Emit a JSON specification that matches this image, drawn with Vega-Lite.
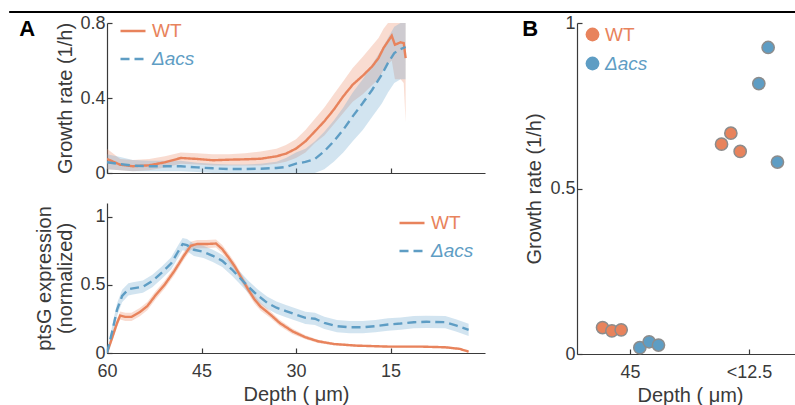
{
  "$schema": "https://vega.github.io/schema/vega-lite/v6.json",
  "padding": {"left": 8, "top": 11, "right": 0, "bottom": 0},
  "spacing": 1,
  "resolve": {"scale": {"fill": "independent", "stroke": "independent", "strokeDash": "independent"}, "legend": {"fill": "independent", "stroke": "independent", "strokeDash": "independent"}},
  "datasets": {
    "growth": [
      {"depth": 60, "strain": "WT", "mean": 0.075, "lo": 0.02, "hi": 0.13},
      {"depth": 57.9, "strain": "WT", "mean": 0.044, "lo": 0.015, "hi": 0.075},
      {"depth": 55.9, "strain": "WT", "mean": 0.036, "lo": 0.01, "hi": 0.07},
      {"depth": 53.3, "strain": "WT", "mean": 0.041, "lo": 0.015, "hi": 0.075},
      {"depth": 50.8, "strain": "WT", "mean": 0.057, "lo": 0.03, "hi": 0.09},
      {"depth": 48.3, "strain": "WT", "mean": 0.08, "lo": 0.05, "hi": 0.11},
      {"depth": 45.7, "strain": "WT", "mean": 0.075, "lo": 0.045, "hi": 0.105},
      {"depth": 43.2, "strain": "WT", "mean": 0.068, "lo": 0.04, "hi": 0.1},
      {"depth": 40.7, "strain": "WT", "mean": 0.071, "lo": 0.04, "hi": 0.1},
      {"depth": 38.1, "strain": "WT", "mean": 0.073, "lo": 0.04, "hi": 0.105},
      {"depth": 35.6, "strain": "WT", "mean": 0.076, "lo": 0.04, "hi": 0.115},
      {"depth": 33.1, "strain": "WT", "mean": 0.089, "lo": 0.05, "hi": 0.13},
      {"depth": 31.6, "strain": "WT", "mean": 0.103, "lo": 0.06, "hi": 0.15},
      {"depth": 30, "strain": "WT", "mean": 0.13, "lo": 0.08, "hi": 0.18},
      {"depth": 28.5, "strain": "WT", "mean": 0.169, "lo": 0.11, "hi": 0.23},
      {"depth": 27, "strain": "WT", "mean": 0.222, "lo": 0.16, "hi": 0.29},
      {"depth": 25.5, "strain": "WT", "mean": 0.276, "lo": 0.2, "hi": 0.35},
      {"depth": 24, "strain": "WT", "mean": 0.338, "lo": 0.26, "hi": 0.42},
      {"depth": 22.5, "strain": "WT", "mean": 0.409, "lo": 0.32, "hi": 0.49},
      {"depth": 21, "strain": "WT", "mean": 0.471, "lo": 0.38, "hi": 0.56},
      {"depth": 19.4, "strain": "WT", "mean": 0.519, "lo": 0.42, "hi": 0.62},
      {"depth": 17.9, "strain": "WT", "mean": 0.569, "lo": 0.47, "hi": 0.68},
      {"depth": 16.9, "strain": "WT", "mean": 0.613, "lo": 0.5, "hi": 0.72},
      {"depth": 16.1, "strain": "WT", "mean": 0.667, "lo": 0.55, "hi": 0.77},
      {"depth": 15.4, "strain": "WT", "mean": 0.702, "lo": 0.58, "hi": 0.8},
      {"depth": 14.8, "strain": "WT", "mean": 0.732, "lo": 0.6, "hi": 0.85},
      {"depth": 14.3, "strain": "WT", "mean": 0.684, "lo": 0.5, "hi": 0.85},
      {"depth": 13.4, "strain": "WT", "mean": 0.697, "lo": 0.5, "hi": 0.85},
      {"depth": 12.9, "strain": "WT", "mean": 0.693, "lo": 0.48, "hi": 0.85},
      {"depth": 12.6, "strain": "WT", "mean": 0.613, "lo": 0.27, "hi": 0.85},
      {"depth": 60, "strain": "Δacs", "mean": 0.057, "lo": 0.02, "hi": 0.1},
      {"depth": 57.9, "strain": "Δacs", "mean": 0.048, "lo": 0.015, "hi": 0.085},
      {"depth": 55.9, "strain": "Δacs", "mean": 0.039, "lo": 0.01, "hi": 0.07},
      {"depth": 53.3, "strain": "Δacs", "mean": 0.036, "lo": 0.01, "hi": 0.065},
      {"depth": 50.8, "strain": "Δacs", "mean": 0.036, "lo": 0.01, "hi": 0.065},
      {"depth": 48.3, "strain": "Δacs", "mean": 0.036, "lo": 0.01, "hi": 0.065},
      {"depth": 45.7, "strain": "Δacs", "mean": 0.03, "lo": 0.005, "hi": 0.055},
      {"depth": 43.2, "strain": "Δacs", "mean": 0.025, "lo": 0, "hi": 0.05},
      {"depth": 40.7, "strain": "Δacs", "mean": 0.021, "lo": 0, "hi": 0.045},
      {"depth": 38.1, "strain": "Δacs", "mean": 0.021, "lo": 0, "hi": 0.045},
      {"depth": 35.6, "strain": "Δacs", "mean": 0.023, "lo": 0, "hi": 0.05},
      {"depth": 33.1, "strain": "Δacs", "mean": 0.027, "lo": 0, "hi": 0.06},
      {"depth": 31.6, "strain": "Δacs", "mean": 0.032, "lo": 0, "hi": 0.08},
      {"depth": 30, "strain": "Δacs", "mean": 0.05, "lo": 0, "hi": 0.11},
      {"depth": 28.5, "strain": "Δacs", "mean": 0.059, "lo": 0, "hi": 0.13},
      {"depth": 27, "strain": "Δacs", "mean": 0.075, "lo": 0, "hi": 0.17},
      {"depth": 25.5, "strain": "Δacs", "mean": 0.116, "lo": 0.02, "hi": 0.22},
      {"depth": 24, "strain": "Δacs", "mean": 0.169, "lo": 0.06, "hi": 0.28},
      {"depth": 22.5, "strain": "Δacs", "mean": 0.231, "lo": 0.11, "hi": 0.35},
      {"depth": 21, "strain": "Δacs", "mean": 0.302, "lo": 0.17, "hi": 0.43},
      {"depth": 19.4, "strain": "Δacs", "mean": 0.373, "lo": 0.23, "hi": 0.5},
      {"depth": 17.9, "strain": "Δacs", "mean": 0.444, "lo": 0.3, "hi": 0.58},
      {"depth": 16.4, "strain": "Δacs", "mean": 0.524, "lo": 0.37, "hi": 0.66},
      {"depth": 15.4, "strain": "Δacs", "mean": 0.587, "lo": 0.43, "hi": 0.72},
      {"depth": 14.4, "strain": "Δacs", "mean": 0.64, "lo": 0.48, "hi": 0.78},
      {"depth": 13.4, "strain": "Δacs", "mean": 0.661, "lo": 0.5, "hi": 0.8},
      {"depth": 12.6, "strain": "Δacs", "mean": 0.672, "lo": 0.5, "hi": 0.82}
    ],
    "ptsg": [
      {"depth": 60, "strain": "WT", "mean": 0, "lo": 0, "hi": 0},
      {"depth": 59.1, "strain": "WT", "mean": 0.123, "lo": 0.093, "hi": 0.153},
      {"depth": 58.4, "strain": "WT", "mean": 0.221, "lo": 0.191, "hi": 0.251},
      {"depth": 57.9, "strain": "WT", "mean": 0.275, "lo": 0.245, "hi": 0.305},
      {"depth": 57.1, "strain": "WT", "mean": 0.265, "lo": 0.235, "hi": 0.295},
      {"depth": 56.1, "strain": "WT", "mean": 0.265, "lo": 0.235, "hi": 0.295},
      {"depth": 54.8, "strain": "WT", "mean": 0.3, "lo": 0.27, "hi": 0.33},
      {"depth": 53.6, "strain": "WT", "mean": 0.344, "lo": 0.314, "hi": 0.374},
      {"depth": 52.3, "strain": "WT", "mean": 0.423, "lo": 0.393, "hi": 0.453},
      {"depth": 50.8, "strain": "WT", "mean": 0.504, "lo": 0.474, "hi": 0.534},
      {"depth": 49.3, "strain": "WT", "mean": 0.602, "lo": 0.572, "hi": 0.632},
      {"depth": 47.8, "strain": "WT", "mean": 0.713, "lo": 0.683, "hi": 0.743},
      {"depth": 46.7, "strain": "WT", "mean": 0.786, "lo": 0.756, "hi": 0.816},
      {"depth": 45.7, "strain": "WT", "mean": 0.799, "lo": 0.769, "hi": 0.829},
      {"depth": 44.2, "strain": "WT", "mean": 0.799, "lo": 0.769, "hi": 0.829},
      {"depth": 42.7, "strain": "WT", "mean": 0.803, "lo": 0.773, "hi": 0.833},
      {"depth": 41.7, "strain": "WT", "mean": 0.762, "lo": 0.732, "hi": 0.792},
      {"depth": 40.7, "strain": "WT", "mean": 0.7, "lo": 0.67, "hi": 0.73},
      {"depth": 39.7, "strain": "WT", "mean": 0.634, "lo": 0.604, "hi": 0.664},
      {"depth": 38.7, "strain": "WT", "mean": 0.553, "lo": 0.523, "hi": 0.583},
      {"depth": 37.6, "strain": "WT", "mean": 0.467, "lo": 0.437, "hi": 0.497},
      {"depth": 36.6, "strain": "WT", "mean": 0.393, "lo": 0.363, "hi": 0.423},
      {"depth": 35.6, "strain": "WT", "mean": 0.339, "lo": 0.309, "hi": 0.369},
      {"depth": 34.1, "strain": "WT", "mean": 0.283, "lo": 0.258, "hi": 0.308},
      {"depth": 32.6, "strain": "WT", "mean": 0.221, "lo": 0.198, "hi": 0.244},
      {"depth": 30.6, "strain": "WT", "mean": 0.16, "lo": 0.14, "hi": 0.18},
      {"depth": 28.5, "strain": "WT", "mean": 0.115, "lo": 0.1, "hi": 0.13},
      {"depth": 26.5, "strain": "WT", "mean": 0.086, "lo": 0.074, "hi": 0.098},
      {"depth": 24, "strain": "WT", "mean": 0.066, "lo": 0.056, "hi": 0.076},
      {"depth": 20.4, "strain": "WT", "mean": 0.054, "lo": 0.046, "hi": 0.062},
      {"depth": 15.4, "strain": "WT", "mean": 0.047, "lo": 0.04, "hi": 0.054},
      {"depth": 10.3, "strain": "WT", "mean": 0.047, "lo": 0.04, "hi": 0.054},
      {"depth": 6.3, "strain": "WT", "mean": 0.042, "lo": 0.035, "hi": 0.049},
      {"depth": 4, "strain": "WT", "mean": 0.03, "lo": 0.024, "hi": 0.036},
      {"depth": 2.6, "strain": "WT", "mean": 0.01, "lo": 0.005, "hi": 0.015},
      {"depth": 60, "strain": "Δacs", "mean": 0, "lo": 0, "hi": 0},
      {"depth": 59.1, "strain": "Δacs", "mean": 0.172, "lo": 0.127, "hi": 0.217},
      {"depth": 58.4, "strain": "Δacs", "mean": 0.319, "lo": 0.274, "hi": 0.364},
      {"depth": 57.6, "strain": "Δacs", "mean": 0.418, "lo": 0.373, "hi": 0.463},
      {"depth": 56.6, "strain": "Δacs", "mean": 0.467, "lo": 0.422, "hi": 0.512},
      {"depth": 55.9, "strain": "Δacs", "mean": 0.474, "lo": 0.429, "hi": 0.519},
      {"depth": 54.3, "strain": "Δacs", "mean": 0.486, "lo": 0.441, "hi": 0.531},
      {"depth": 52.8, "strain": "Δacs", "mean": 0.528, "lo": 0.483, "hi": 0.573},
      {"depth": 51.3, "strain": "Δacs", "mean": 0.59, "lo": 0.545, "hi": 0.635},
      {"depth": 49.8, "strain": "Δacs", "mean": 0.658, "lo": 0.613, "hi": 0.703},
      {"depth": 48.8, "strain": "Δacs", "mean": 0.737, "lo": 0.692, "hi": 0.782},
      {"depth": 48, "strain": "Δacs", "mean": 0.799, "lo": 0.754, "hi": 0.844},
      {"depth": 47.3, "strain": "Δacs", "mean": 0.791, "lo": 0.746, "hi": 0.836},
      {"depth": 46.2, "strain": "Δacs", "mean": 0.757, "lo": 0.712, "hi": 0.802},
      {"depth": 44.7, "strain": "Δacs", "mean": 0.742, "lo": 0.697, "hi": 0.787},
      {"depth": 43.2, "strain": "Δacs", "mean": 0.713, "lo": 0.668, "hi": 0.758},
      {"depth": 41.7, "strain": "Δacs", "mean": 0.676, "lo": 0.631, "hi": 0.721},
      {"depth": 40.2, "strain": "Δacs", "mean": 0.614, "lo": 0.569, "hi": 0.659},
      {"depth": 38.7, "strain": "Δacs", "mean": 0.541, "lo": 0.496, "hi": 0.586},
      {"depth": 37.6, "strain": "Δacs", "mean": 0.487, "lo": 0.442, "hi": 0.532},
      {"depth": 36.1, "strain": "Δacs", "mean": 0.423, "lo": 0.378, "hi": 0.468},
      {"depth": 34.6, "strain": "Δacs", "mean": 0.369, "lo": 0.324, "hi": 0.414},
      {"depth": 33.1, "strain": "Δacs", "mean": 0.332, "lo": 0.287, "hi": 0.377},
      {"depth": 31.6, "strain": "Δacs", "mean": 0.307, "lo": 0.262, "hi": 0.352},
      {"depth": 30.1, "strain": "Δacs", "mean": 0.283, "lo": 0.238, "hi": 0.328},
      {"depth": 28.5, "strain": "Δacs", "mean": 0.258, "lo": 0.213, "hi": 0.303},
      {"depth": 27, "strain": "Δacs", "mean": 0.251, "lo": 0.206, "hi": 0.296},
      {"depth": 25.5, "strain": "Δacs", "mean": 0.221, "lo": 0.176, "hi": 0.266},
      {"depth": 23.5, "strain": "Δacs", "mean": 0.197, "lo": 0.152, "hi": 0.242},
      {"depth": 21.5, "strain": "Δacs", "mean": 0.189, "lo": 0.144, "hi": 0.234},
      {"depth": 19.4, "strain": "Δacs", "mean": 0.189, "lo": 0.144, "hi": 0.234},
      {"depth": 17.4, "strain": "Δacs", "mean": 0.197, "lo": 0.152, "hi": 0.242},
      {"depth": 15.4, "strain": "Δacs", "mean": 0.209, "lo": 0.164, "hi": 0.254},
      {"depth": 13.4, "strain": "Δacs", "mean": 0.216, "lo": 0.171, "hi": 0.261},
      {"depth": 11.3, "strain": "Δacs", "mean": 0.226, "lo": 0.181, "hi": 0.271},
      {"depth": 9.3, "strain": "Δacs", "mean": 0.229, "lo": 0.184, "hi": 0.274},
      {"depth": 6.3, "strain": "Δacs", "mean": 0.226, "lo": 0.181, "hi": 0.271},
      {"depth": 4.5, "strain": "Δacs", "mean": 0.2, "lo": 0.155, "hi": 0.245},
      {"depth": 2.6, "strain": "Δacs", "mean": 0.17, "lo": 0.125, "hi": 0.215}
    ],
    "points": [
      {"depth": "45", "strain": "WT", "rep": "WT-1", "growth": 0.08},
      {"depth": "45", "strain": "WT", "rep": "WT-2", "growth": 0.07},
      {"depth": "45", "strain": "WT", "rep": "WT-3", "growth": 0.073},
      {"depth": "45", "strain": "Δacs", "rep": "Δacs-1", "growth": 0.019},
      {"depth": "45", "strain": "Δacs", "rep": "Δacs-2", "growth": 0.037},
      {"depth": "45", "strain": "Δacs", "rep": "Δacs-3", "growth": 0.027},
      {"depth": "<12.5", "strain": "WT", "rep": "WT-1", "growth": 0.634},
      {"depth": "<12.5", "strain": "WT", "rep": "WT-2", "growth": 0.667},
      {"depth": "<12.5", "strain": "WT", "rep": "WT-3", "growth": 0.612},
      {"depth": "<12.5", "strain": "Δacs", "rep": "Δacs-1", "growth": 0.817},
      {"depth": "<12.5", "strain": "Δacs", "rep": "Δacs-2", "growth": 0.926},
      {"depth": "<12.5", "strain": "Δacs", "rep": "Δacs-3", "growth": 0.58}
    ],
    "frame": [{"start": -0.142, "end": 1, "edge": 0}]
  },
  "vconcat": [
    {
      "width": 689,
      "height": 1,
      "data": {"name": "frame"},
      "mark": {"type": "rule", "strokeWidth": 1.8, "color": "#000000"},
      "encoding": {
        "x": {"field": "start", "type": "quantitative", "scale": {"domain": [0, 1]}, "axis": null},
        "x2": {"field": "end"},
        "y": {"field": "edge", "type": "quantitative", "scale": {"domain": [0, 1]}, "axis": null}
      }
    },
    {
      "spacing": 37,
      "resolve": {"scale": {"fill": "independent", "stroke": "independent", "strokeDash": "independent"}, "legend": {"fill": "independent", "stroke": "independent", "strokeDash": "independent"}},
      "hconcat": [
        {
          "spacing": 21,
          "resolve": {"scale": {"fill": "independent", "stroke": "independent", "strokeDash": "independent"}, "legend": {"fill": "independent", "stroke": "independent", "strokeDash": "independent"}},
          "vconcat": [
            {
              "width": 378,
              "height": 150,
              "title": {"text": "A", "orient": "left", "anchor": "end", "angle": 0, "align": "right", "baseline": "alphabetic", "offset": 5, "dy": 22, "fontSize": 22, "fontWeight": "bold", "color": "#000000"},
              "data": {"name": "growth"},
              "layer": [
                {
                  "mark": {"type": "area", "opacity": 0.3, "clip": true},
                  "encoding": {
                    "x": {"field": "depth", "type": "quantitative", "scale": {"domain": [60, 2.5]}, "axis": {"values": [60, 45, 30, 15], "labels": false, "title": null}},
                    "y": {"field": "lo", "type": "quantitative", "scale": {"domain": [0, 0.8]}, "axis": {"values": [0, 0.4, 0.8], "format": "~g", "title": "Growth rate (1/h)"}},
                    "y2": {"field": "hi"},
                    "fill": {"field": "strain", "type": "nominal", "scale": {"domain": ["WT", "Δacs"], "range": ["#EC8A66", "#6AA6CC"]},
                      "legend": {"orient": "none", "legendX": 12, "legendY": -6, "title": null, "symbolType": "stroke", "symbolSize": 625, "symbolStrokeWidth": 2.4, "symbolOpacity": 1, "labelOffset": 5, "rowPadding": 4, "labelFontSize": 19,
                        "symbolStrokeColor": {"expr": "datum.label === 'WT' ? '#E8835C' : '#5E9DC4'"},
                        "symbolDash": {"expr": "datum.label === 'WT' ? [1, 0] : [9, 4]"},
                        "labelColor": {"expr": "datum.label === 'WT' ? '#E8835C' : '#5E9DC4'"},
                        "labelFontStyle": {"expr": "datum.label === 'WT' ? 'normal' : 'italic'"}}}
                  }
                },
                {
                  "mark": {"type": "line", "strokeWidth": 2.4, "clip": true},
                  "encoding": {
                    "x": {"field": "depth", "type": "quantitative"},
                    "y": {"field": "mean", "type": "quantitative"},
                    "stroke": {"field": "strain", "type": "nominal", "scale": {"domain": ["WT", "Δacs"], "range": ["#E8835C", "#5E9DC4"]}, "legend": null},
                    "strokeDash": {"field": "strain", "type": "nominal", "scale": {"domain": ["WT", "Δacs"], "range": [[1, 0], [9, 5]]}, "legend": null}
                  }
                }
              ]
            },
            {
              "width": 378,
              "height": 150,
              "data": {"name": "ptsg"},
              "layer": [
                {
                  "mark": {"type": "area", "opacity": 0.3, "clip": true},
                  "encoding": {
                    "x": {"field": "depth", "type": "quantitative", "scale": {"domain": [60, 2.5]}, "axis": {"values": [60, 45, 30, 15], "title": "Depth ( μm)"}},
                    "y": {"field": "lo", "type": "quantitative", "scale": {"domain": [0, 1.1]}, "axis": {"values": [0, 0.5, 1], "format": "~g", "title": ["ptsG expression", "(normalized)"], "titleLineHeight": 21}},
                    "y2": {"field": "hi"},
                    "fill": {"field": "strain", "type": "nominal", "scale": {"domain": ["WT", "Δacs"], "range": ["#EC8A66", "#6AA6CC"]},
                      "legend": {"orient": "none", "legendX": 291, "legendY": 6, "title": null, "symbolType": "stroke", "symbolSize": 625, "symbolStrokeWidth": 2.4, "symbolOpacity": 1, "labelOffset": 5, "rowPadding": 4, "labelFontSize": 19,
                        "symbolStrokeColor": {"expr": "datum.label === 'WT' ? '#E8835C' : '#5E9DC4'"},
                        "symbolDash": {"expr": "datum.label === 'WT' ? [1, 0] : [9, 4]"},
                        "labelColor": {"expr": "datum.label === 'WT' ? '#E8835C' : '#5E9DC4'"},
                        "labelFontStyle": {"expr": "datum.label === 'WT' ? 'normal' : 'italic'"}}}
                  }
                },
                {
                  "mark": {"type": "line", "strokeWidth": 2.4, "clip": true},
                  "encoding": {
                    "x": {"field": "depth", "type": "quantitative"},
                    "y": {"field": "mean", "type": "quantitative"},
                    "stroke": {"field": "strain", "type": "nominal", "scale": {"domain": ["WT", "Δacs"], "range": ["#E8835C", "#5E9DC4"]}, "legend": null},
                    "strokeDash": {"field": "strain", "type": "nominal", "scale": {"domain": ["WT", "Δacs"], "range": [[1, 0], [9, 5]]}, "legend": null}
                  }
                }
              ]
            }
          ]
        },
        {
          "width": 226,
          "height": 331,
          "title": {"text": "B", "orient": "left", "anchor": "end", "angle": 0, "align": "right", "baseline": "alphabetic", "offset": -29, "dy": 22, "fontSize": 22, "fontWeight": "bold", "color": "#000000"},
          "data": {"name": "points"},
          "mark": {"type": "point", "filled": true, "size": 150, "opacity": 1, "stroke": "#8C8C8C", "strokeWidth": 1.5},
          "encoding": {
            "x": {"field": "depth", "type": "nominal", "sort": ["45", "<12.5"], "scale": {"paddingInner": 0.53, "paddingOuter": 0.2147}, "axis": {"title": "Depth ( μm)", "labelAngle": 0}},
            "xOffset": {"field": "rep", "type": "nominal", "scale": {"domain": ["WT-1", "WT-2", "WT-3", "gap", "Δacs-1", "Δacs-2", "Δacs-3"], "paddingInner": 0, "paddingOuter": 0}},
            "y": {"field": "growth", "type": "quantitative", "scale": {"domain": [0, 1]}, "axis": {"values": [0, 0.5, 1], "format": "~g", "title": "Growth rate (1/h)", "titlePadding": 5}},
            "fill": {"field": "strain", "type": "nominal", "scale": {"domain": ["WT", "Δacs"], "range": ["#E8835C", "#5E9DC4"]},
              "legend": {"orient": "none", "legendX": 6, "legendY": 2, "title": null, "symbolType": "circle", "symbolSize": 190, "symbolStrokeWidth": 0, "labelOffset": 3, "rowPadding": 9, "labelFontSize": 19,
                "labelColor": {"expr": "datum.label === 'WT' ? '#E8835C' : '#5E9DC4'"},
                "labelFontStyle": {"expr": "datum.label === 'WT' ? 'normal' : 'italic'"}}}
          }
        }
      ]
    }
  ],
  "config": {
    "font": "Liberation Sans",
    "view": {"stroke": null},
    "axis": {
      "grid": false,
      "domainColor": "#3a3a3a",
      "domainWidth": 1.2,
      "tickColor": "#3a3a3a",
      "tickWidth": 1.2,
      "tickSize": -5,
      "labelColor": "#3a3a3a",
      "labelFontSize": 18,
      "labelPadding": 7,
      "labelFlush": false,
      "titleColor": "#3a3a3a",
      "titleFontSize": 20,
      "titleFontWeight": "normal",
      "titlePadding": 4
    },
    "axisX": {"labelPadding": 14, "titlePadding": 4},
    "legend": {"padding": 0, "labelFontSize": 19}
  }
}
